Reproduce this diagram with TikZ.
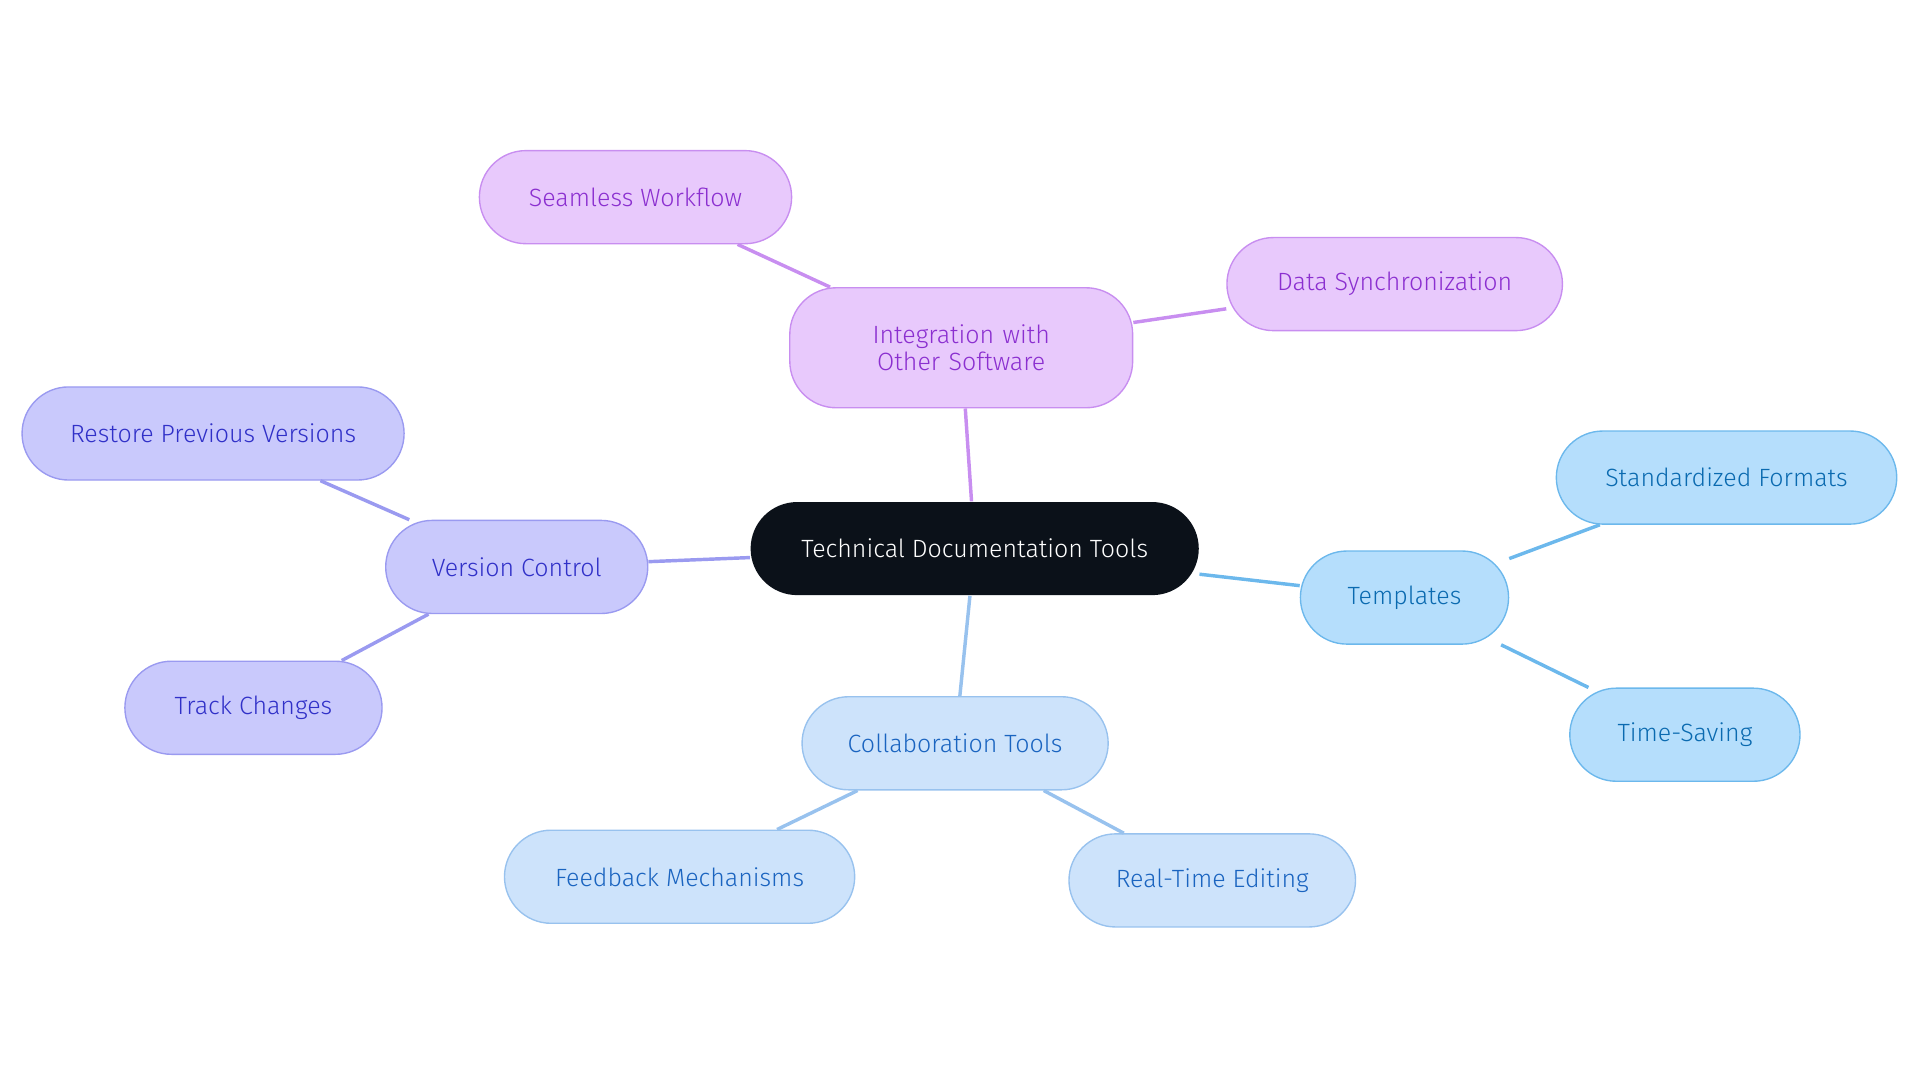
\documentclass[tikz,border=0pt]{standalone}
\usepackage{fontspec}
\setmainfont{Fira Sans Light}[BoldFont=Fira Sans]
\begin{document}
\begin{tikzpicture}[x=0.025cm,y=-0.025cm]
\definecolor{cblack}{HTML}{0B1119}
\definecolor{pfill}{HTML}{E8C9FC}\definecolor{pdraw}{HTML}{C88EF0}\definecolor{ptext}{HTML}{8B2FD0}
\definecolor{vfill}{HTML}{C9C9FC}\definecolor{vdraw}{HTML}{9A9AF0}\definecolor{vtext}{HTML}{3030C8}
\definecolor{tfill}{HTML}{B5DEFC}\definecolor{tdraw}{HTML}{6CB8EC}\definecolor{ttext}{HTML}{0A6AB0}
\definecolor{cfill}{HTML}{CDE3FB}\definecolor{cdraw}{HTML}{98C2EE}\definecolor{ctext}{HTML}{1A64C0}
\tikzset{
 box/.style={rounded corners=0.95cm,minimum height=1.9cm,align=center,font=\fontsize{14.5}{16}\selectfont,line width=0.8pt,inner sep=0pt},
 pbox/.style={box,fill=pfill,draw=pdraw,text=ptext},
 vbox/.style={box,fill=vfill,draw=vdraw,text=vtext},
 tbox/.style={box,fill=tfill,draw=tdraw,text=ttext},
 cbox/.style={box,fill=cfill,draw=cdraw,text=ctext},
 edge/.style={line width=2pt}
}
\useasboundingbox (0,0) rectangle (1568,884);
\node[box,fill=cblack,text=white,minimum width=366*0.025cm] (c) at (796,448) {Technical Documentation Tools};
\node[pbox,minimum width=280*0.025cm,minimum height=98*0.025cm,text width=230*0.025cm] (i) at (785,284) {Integration with Other Software};
\node[pbox,minimum width=255*0.025cm] (s) at (519,161) {Seamless Workflow};
\node[pbox,minimum width=274*0.025cm] (d) at (1139,232) {Data Synchronization};
\node[vbox,minimum width=214*0.025cm] (v) at (422,463) {Version Control};
\node[vbox,minimum width=312*0.025cm] (r) at (174,354) {Restore Previous Versions};
\node[vbox,minimum width=210*0.025cm] (tc) at (207,578) {Track Changes};
\node[tbox,minimum width=170*0.025cm] (t) at (1147,488) {Templates};
\node[tbox,minimum width=278*0.025cm] (sf) at (1410,390) {Standardized Formats};
\node[tbox,minimum width=188*0.025cm] (ts) at (1376,600) {Time-Saving};
\node[cbox,minimum width=250*0.025cm] (co) at (780,607) {Collaboration Tools};
\node[cbox,minimum width=286*0.025cm] (f) at (555,716) {Feedback Mechanisms};
\node[cbox,minimum width=234*0.025cm] (rt) at (990,719) {Real-Time Editing};
\begin{scope}[on background layer/.try]
\end{scope}
\begin{pgfinterruptboundingbox}\end{pgfinterruptboundingbox}
\draw[edge,pdraw] (c) -- (i); \draw[edge,pdraw] (i) -- (s); \draw[edge,pdraw] (i) -- (d);
\draw[edge,vdraw] (c) -- (v); \draw[edge,vdraw] (v) -- (r); \draw[edge,vdraw] (v) -- (tc);
\draw[edge,tdraw] (c) -- (t); \draw[edge,tdraw] (t) -- (sf); \draw[edge,tdraw] (t) -- (ts);
\draw[edge,cdraw] (c) -- (co); \draw[edge,cdraw] (co) -- (f); \draw[edge,cdraw] (co) -- (rt);
\end{tikzpicture}
\end{document}
